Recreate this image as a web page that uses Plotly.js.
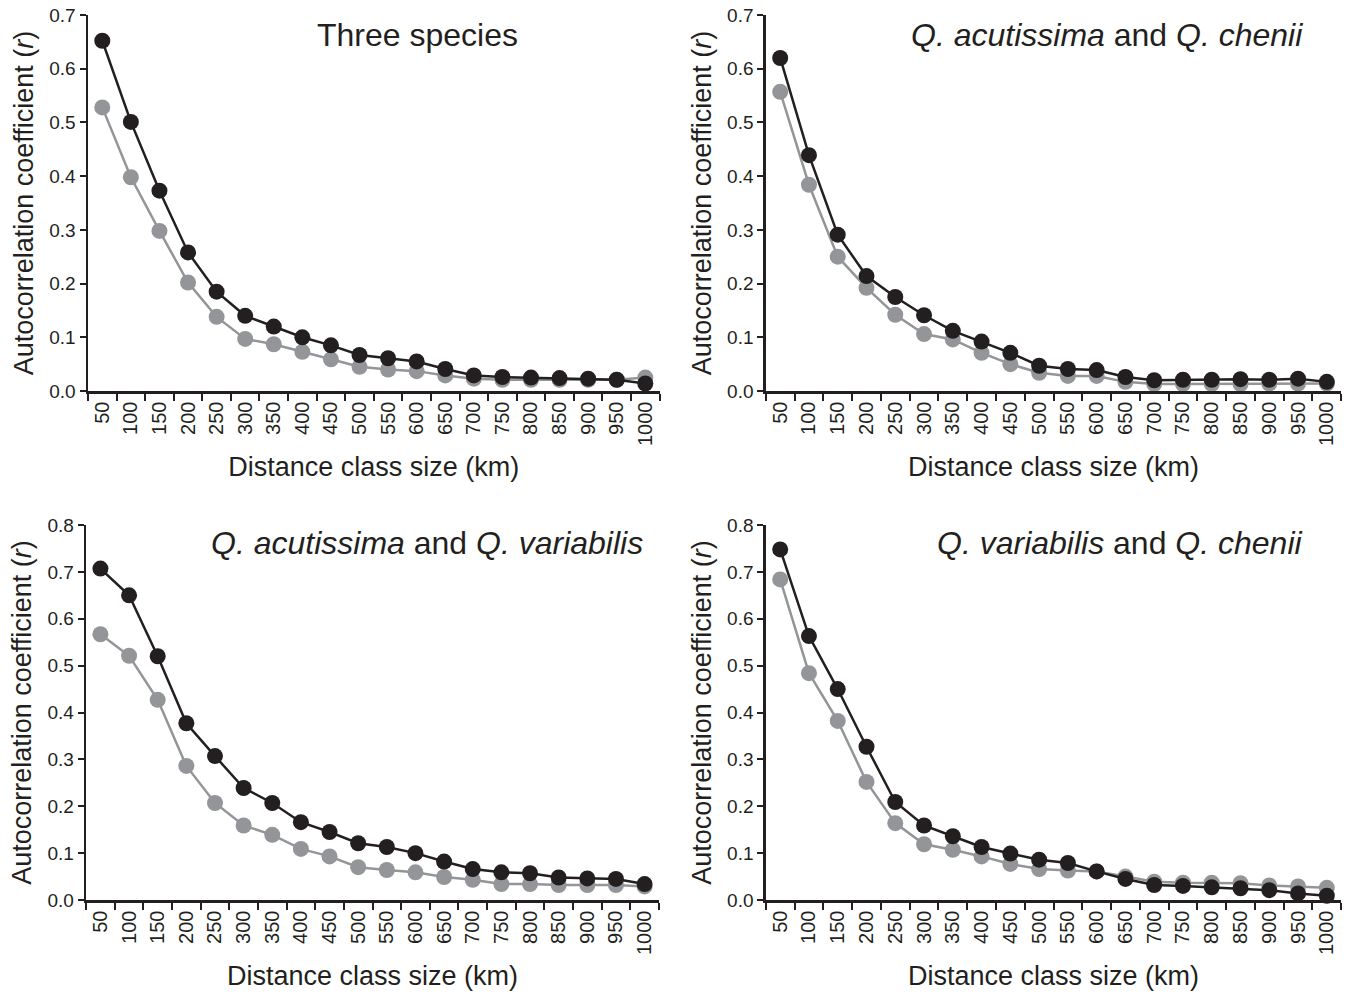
<!DOCTYPE html>
<html>
<head>
<meta charset="utf-8">
<script src="https://cdn.plot.ly/plotly-3.0.1.min.js"></script>
<style>html,body{margin:0;padding:0;background:#fff;}#chart{width:1346px;height:995px;}</style>
</head>
<body>
<div id="chart"></div>
<script>
var distanceClasses = ['50','100','150','200','250','300','350','400','450','500','550','600','650','700','750','800','850','900','950','1000'];

var panelTitles = [
  'Three species',
  '<i>Q. acutissima</i> and <i>Q. chenii</i>',
  '<i>Q. acutissima</i> and <i>Q. variabilis</i>',
  '<i>Q. variabilis</i> and <i>Q. chenii</i>'
];

// Panel 1: Three species
var threeBlack = [0.652,0.501,0.373,0.258,0.185,0.140,0.120,0.100,0.085,0.067,0.061,0.055,0.041,0.029,0.026,0.025,0.024,0.023,0.021,0.014];
var threeGray  = [0.528,0.398,0.298,0.202,0.138,0.097,0.087,0.073,0.059,0.045,0.040,0.037,0.029,0.023,0.021,0.021,0.021,0.021,0.021,0.025];

// Panel 2: Q. acutissima and Q. chenii
var acuCheBlack = [0.620,0.439,0.291,0.214,0.175,0.141,0.112,0.092,0.071,0.047,0.041,0.039,0.026,0.020,0.021,0.021,0.022,0.021,0.023,0.017];
var acuCheGray  = [0.557,0.384,0.250,0.192,0.142,0.106,0.096,0.071,0.050,0.034,0.028,0.028,0.017,0.013,0.013,0.013,0.013,0.014,0.014,0.014];

// Panel 3: Q. acutissima and Q. variabilis
var acuVarBlack = [0.707,0.650,0.520,0.377,0.307,0.239,0.207,0.166,0.145,0.121,0.113,0.100,0.082,0.066,0.059,0.057,0.048,0.046,0.045,0.034];
var acuVarGray  = [0.567,0.521,0.427,0.286,0.207,0.159,0.139,0.109,0.093,0.070,0.064,0.059,0.049,0.043,0.034,0.034,0.032,0.032,0.032,0.029];

// Panel 4: Q. variabilis and Q. chenii
var varCheBlack = [0.748,0.563,0.450,0.327,0.209,0.159,0.136,0.113,0.099,0.086,0.079,0.061,0.045,0.032,0.030,0.027,0.025,0.021,0.014,0.009];
var varCheGray  = [0.684,0.484,0.382,0.252,0.164,0.119,0.107,0.093,0.077,0.066,0.063,0.061,0.050,0.039,0.037,0.037,0.036,0.031,0.029,0.026];

var yMax = [0.7, 0.7, 0.8, 0.8];

var BLACK = '#231f20', GRAY = '#939598';
var FONT = 'Liberation Sans, Arial, Helvetica, sans-serif';

var series = [[threeBlack, threeGray],[acuCheBlack, acuCheGray],[acuVarBlack, acuVarGray],[varCheBlack, varCheGray]];

var W = 1346, H = 995;
var xDom = [[88, 659.6],[765.8, 1341.2],[86.1, 658.9],[765.8, 1341.2]];
var yDom = [[391, 15],[391, 15],[900, 525],[900, 525]];

var traces = [];
series.forEach(function(s, i){
  var sfx = i === 0 ? '' : String(i+1);
  [[s[1], GRAY], [s[0], BLACK]].forEach(function(p){
    traces.push({
      type: 'scatter', mode: 'lines+markers',
      x: distanceClasses, y: p[0],
      xaxis: 'x' + sfx, yaxis: 'y' + sfx,
      line: {color: p[1], width: 2.5},
      marker: {color: p[1], size: 16},
      cliponaxis: false, showlegend: false, hoverinfo: 'x+y'
    });
  });
});

var layout = {
  width: W, height: H,
  margin: {l: 0, r: 0, t: 0, b: 0},
  paper_bgcolor: '#fff', plot_bgcolor: '#fff',
  font: {family: FONT, color: BLACK},
  showlegend: false,
  annotations: []
};

var titleRight = [520, 1305, 645, 1305];
var titleY = [35, 35, 543, 543];

for (var i = 0; i < 4; i++) {
  var sfx = i === 0 ? '' : String(i+1);
  layout['xaxis' + sfx] = {
    domain: [xDom[i][0]/W, xDom[i][1]/W],
    anchor: 'y' + sfx,
    type: 'category',
    range: [-0.5, 19.5],
    tickson: 'boundaries',
    ticks: 'outside', ticklen: 7, tickwidth: 2, tickcolor: BLACK,
    showline: true, linecolor: BLACK, linewidth: 2.5,
    showgrid: false, zeroline: false,
    tickangle: -90,
    tickfont: {size: 20, family: FONT, color: BLACK},
    title: {text: 'Distance class size (km)', font: {size: 27, family: FONT, color: BLACK}, standoff: 12},
    automargin: false, fixedrange: true
  };
  layout['yaxis' + sfx] = {
    domain: [1 - yDom[i][0]/H, 1 - yDom[i][1]/H],
    anchor: 'x' + sfx,
    range: [0, yMax[i]],
    dtick: 0.1, tick0: 0, tickformat: '.1f',
    ticks: 'outside', ticklen: 6, tickwidth: 2, tickcolor: BLACK,
    showline: true, linecolor: BLACK, linewidth: 2.5,
    showgrid: false, zeroline: false,
    tickfont: {size: 19, family: FONT, color: BLACK},
    title: {text: 'Autocorrelation coefficient (<i>r</i>)', font: {size: 27, family: FONT, color: BLACK}, standoff: 8},
    automargin: false, fixedrange: true
  };
  layout.annotations.push({
    text: panelTitles[i], xref: 'paper', yref: 'paper',
    x: titleRight[i]/W, y: 1 - titleY[i]/H,
    xanchor: 'right', yanchor: 'middle', showarrow: false,
    font: {size: 32, family: FONT, color: BLACK}
  });
}

Plotly.newPlot('chart', traces, layout, {displayModeBar: false, staticPlot: true});
</script>
</body>
</html>
